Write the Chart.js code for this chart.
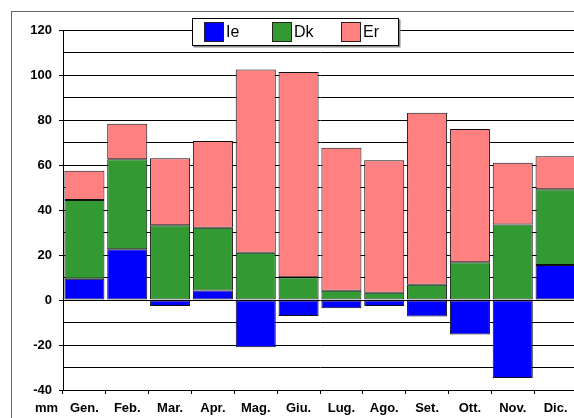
<!DOCTYPE html>
<html>
<head>
<meta charset="utf-8">
<script src="https://cdn.jsdelivr.net/npm/chart.js@4"></script>
<style>
  body { margin: 0; background: #fff; overflow: hidden; }
  #wrap { position: relative; width: 600px; height: 430px; }
</style>
</head>
<body>
<div id="wrap"><canvas id="climaChart"></canvas></div>
<script>
// mesi e valori (mm)
const months = ["Gen.", "Feb.", "Mar.", "Apr.", "Mag.", "Giu.", "Lug.", "Ago.", "Set.", "Ott.", "Nov.", "Dic."];
const ieValues = [9.4, 22.6, -2.7, 4.2, -21.0, -7.1, -3.7, -2.7, -7.3, -15.3, -34.7, 15.6];
const dkValues = [35.0, 40.0, 33.2, 27.9, 21.0, 10.1, 4.1, 3.2, 6.8, 16.8, 33.6, 33.6];
const erValues = [13.0, 15.7, 29.8, 38.6, 81.5, 91.2, 63.6, 58.9, 76.4, 59.2, 27.4, 14.7];
const yTicks = [-40, -20, 0, 20, 40, 60, 80, 100, 120];

const seriesNames = ["Ie", "Dk", "Er"];
const seriesColors = ["#0000FF", "#339933", "#FF8080"];

const FONT = "'Liberation Sans', Arial, sans-serif";

// legenda e cornice disegnate a mano
const extrasPlugin = {
  id: "extras",
  afterDraw(chart) {
    const ctx = chart.ctx;
    ctx.save();
    // cornice esterna
    ctx.strokeStyle = "#666";
    ctx.lineWidth = 1;
    ctx.strokeRect(11.5, 11.5, 700, 600);

    // legenda
    const lx = 192.5, ly = 18.5, lw = 206, lh = 27;
    ctx.fillStyle = "#888";
    ctx.fillRect(lx + 1, ly + 1, lw + 1, lh + 1);
    ctx.fillStyle = "#fff";
    ctx.fillRect(lx, ly, lw, lh);
    ctx.strokeStyle = "#000";
    ctx.strokeRect(lx, ly, lw, lh);

    const boxX = [204, 272, 341];
    ctx.font = "16px " + FONT;
    ctx.textBaseline = "middle";
    chart.data.datasets.forEach((ds, i) => {
      ctx.fillStyle = ds.backgroundColor;
      ctx.fillRect(boxX[i] + 0.5, 22.5, 19, 19);
      ctx.strokeStyle = "#222";
      ctx.strokeRect(boxX[i] + 0.5, 22.5, 19, 19);
      ctx.fillStyle = "#000";
      ctx.fillText(ds.label, boxX[i] + 22, 33);
    });

    // unita di misura
    ctx.font = "bold 13px " + FONT;
    ctx.textAlign = "right";
    ctx.fillText("mm", 58, 408);
    ctx.restore();
  }
};

new Chart(document.getElementById("climaChart"), {
  type: "bar",
  data: {
    labels: months,
    datasets: [ieValues, dkValues, erValues].map((vals, i) => ({
      label: seriesNames[i],
      data: vals,
      backgroundColor: seriesColors[i],
      borderColor: "#111",
      borderWidth: 1,
      borderSkipped: false,
      barPercentage: 0.935,
      categoryPercentage: 1.0
    }))
  },
  options: {
    responsive: true,
    maintainAspectRatio: false,
    animation: false,
    layout: { padding: { left: 0, top: 30, right: 23, bottom: 0 } },
    plugins: {
      legend: { display: false },
      tooltip: { enabled: false }
    },
    scales: {
      x: {
        stacked: true,
        afterFit: (s) => { s.height = 40; },
        grid: {
          offset: true,
          drawOnChartArea: false,
          tickLength: 4,
          color: "#000"
        },
        border: { color: "#000", width: 1 },
        ticks: {
          color: "#000",
          padding: 7,
          font: { family: FONT, size: 13, weight: "bold" },
          maxRotation: 0
        }
      },
      y: {
        stacked: true,
        min: -40,
        max: 120,
        afterFit: (s) => { s.width = 63; },
        afterBuildTicks: (s) => {
          const out = [];
          for (let v = -40; v <= 120; v += 10) out.push({ value: v });
          s.ticks = out;
        },
        grid: {
          color: "#000",
          lineWidth: 1,
          tickLength: 4,
          tickColor: (c) => (yTicks.includes(c.tick.value) ? "#000" : "rgba(0,0,0,0)")
        },
        border: { color: "#000", width: 1 },
        ticks: {
          color: "#000",
          padding: 7,
          font: { family: FONT, size: 13, weight: "bold" },
          callback: (v) => (yTicks.includes(v) ? String(v) : "")
        }
      }
    }
  },
  plugins: [extrasPlugin]
});
</script>
</body>
</html>
